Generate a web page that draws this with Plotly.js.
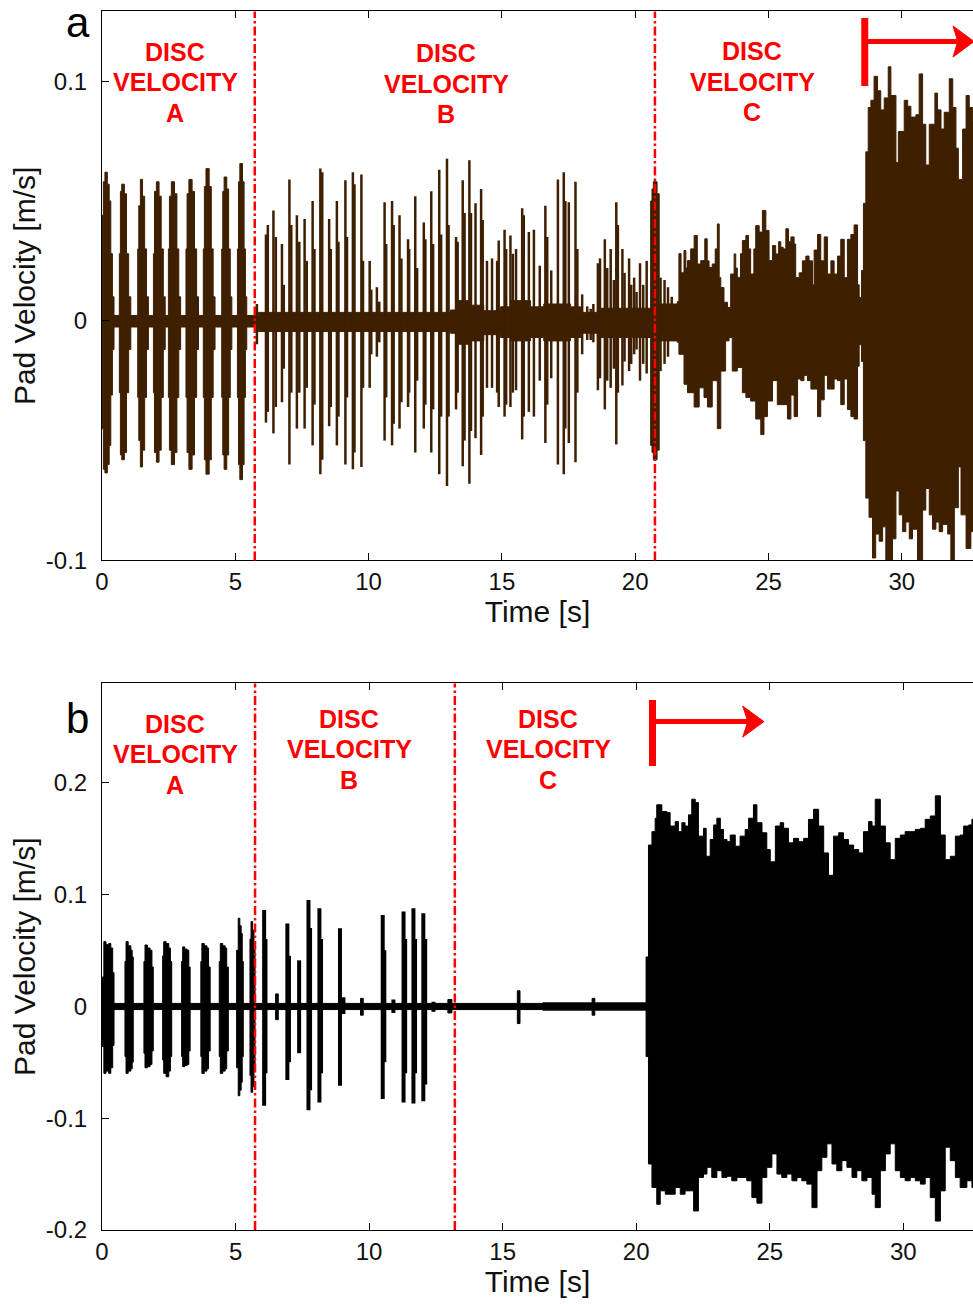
<!DOCTYPE html>
<html>
<head>
<meta charset="utf-8">
<script src="https://cdn.plot.ly/plotly-3.0.1.min.js"></script>
<style>
  html, body { margin: 0; padding: 0; background: #fff; overflow: hidden; }
  #chart { width: 973px; height: 1304px; }
</style>
</head>
<body>
<div id="chart"></div>
<script>
// ---------------- DATA ----------------
// Axis ticks
const xTickVals = [0, 5, 10, 15, 20, 25, 30];
const xTickText = ['0', '5', '10', '15', '20', '25', '30'];
const yTickVals_a = [-0.1, 0, 0.1];
const yTickText_a = ['-0.1', '0', '0.1'];
const yTickVals_b = [-0.2, -0.1, 0, 0.1, 0.2];
const yTickText_b = ['-0.2', '-0.1', '0', '0.1', '0.2'];

// Region labels and boundaries
const regionLetters = ['A', 'B', 'C'];
const boundaries_a = [5.73, 20.74];   // s
const boundaries_b = [5.73, 13.21];   // s
const onset_a = 28.61;                // s, start of the arrow (plot a)
const onset_b = 20.61;                // s, start of the arrow (plot b)

// ---- Plot a: envelope of bursts / quiet band (time [s], upper, lower [m/s]) ----
const bodyT_a = [
  0.00, 0.05, 0.11, 0.20, 0.27, 0.33, 0.39, 0.45,
  0.65, 0.69, 0.74, 0.84, 0.92, 1.00, 1.08,
  1.34, 1.38, 1.44, 1.52, 1.60, 1.67, 1.74,
  1.93, 1.97, 2.04, 2.14, 2.22, 2.30, 2.37,
  2.49, 2.53, 2.60, 2.72, 2.81, 2.88, 2.95,
  3.15, 3.19, 3.26, 3.38, 3.47, 3.55, 3.62,
  3.80, 3.84, 3.90, 4.02, 4.10, 4.17, 4.24,
  4.49, 4.53, 4.58, 4.68, 4.75, 4.81, 4.87,
  5.08, 5.12, 5.17, 5.27, 5.33, 5.38, 5.43,
  5.86, 13.07, 13.32, 13.82, 14.32, 14.95, 15.32, 16.07, 16.57, 17.57, 17.95, 18.58,
  20.58, 20.63, 20.68, 20.82, 20.90
];
const bodyHi_a = [
  0.044, 0.058, 0.062, 0.057, 0.050, 0.028, 0.010, 0.0022,
  0.028, 0.054, 0.057, 0.053, 0.028, 0.010, 0.0022,
  0.030, 0.048, 0.059, 0.052, 0.030, 0.010, 0.0022,
  0.028, 0.054, 0.058, 0.052, 0.030, 0.010, 0.0022,
  0.030, 0.052, 0.058, 0.053, 0.030, 0.010, 0.0022,
  0.030, 0.053, 0.059, 0.054, 0.030, 0.010, 0.0022,
  0.030, 0.056, 0.0635, 0.056, 0.030, 0.010, 0.0022,
  0.030, 0.054, 0.060, 0.055, 0.030, 0.010, 0.0022,
  0.030, 0.058, 0.0656, 0.058, 0.030, 0.010, 0.0022,
  0.0035, 0.0045, 0.0084, 0.0065, 0.0042, 0.0058, 0.0084, 0.0058, 0.007, 0.0058, 0.0035, 0.0052,
  0.050, 0.055, 0.058, 0.053, 0.007
];
const bodyLo_a = [
  -0.045, -0.062, -0.0635, -0.060, -0.052, -0.031, -0.012, -0.0026,
  -0.030, -0.056, -0.058, -0.055, -0.030, -0.012, -0.0026,
  -0.032, -0.050, -0.061, -0.054, -0.032, -0.012, -0.0026,
  -0.030, -0.055, -0.059, -0.054, -0.032, -0.012, -0.0026,
  -0.032, -0.054, -0.060, -0.055, -0.032, -0.012, -0.0026,
  -0.032, -0.055, -0.062, -0.056, -0.032, -0.012, -0.0026,
  -0.032, -0.058, -0.064, -0.058, -0.032, -0.012, -0.0026,
  -0.032, -0.056, -0.062, -0.056, -0.032, -0.012, -0.0026,
  -0.032, -0.060, -0.0663, -0.060, -0.032, -0.012, -0.0026,
  -0.0045, -0.0052, -0.0098, -0.0084, -0.0058, -0.007, -0.0084, -0.007, -0.0084, -0.007, -0.0052, -0.007,
  -0.052, -0.055, -0.058, -0.054, -0.0084
];
// continuous part of plot a: upper envelope
const upT_a = [
  21.58, 21.64, 21.72, 21.83, 21.90, 21.96, 22.08, 22.21, 22.33, 22.46,
  22.61, 22.70, 22.77, 22.89, 23.00, 23.08, 23.15, 23.21, 23.33, 23.46,
  23.58, 23.71, 23.77, 23.83, 23.95, 24.02, 24.15, 24.25, 24.33, 24.45,
  24.52, 24.65, 24.77, 24.90, 25.02, 25.15, 25.27, 25.38, 25.46, 25.55,
  25.65, 25.75, 25.84, 25.96, 26.02, 26.15, 26.27, 26.40, 26.52, 26.65,
  26.71, 26.84, 26.96, 27.09, 27.21, 27.34, 27.46, 27.59, 27.71, 27.84,
  27.96, 28.09, 28.21, 28.34, 28.40, 28.49, 28.56, 28.65, 28.74, 28.84,
  28.96, 29.09, 29.21, 29.34, 29.49, 29.59, 29.78, 29.87, 29.97, 30.09,
  30.22, 30.34, 30.53, 30.65, 30.78, 30.90, 31.03, 31.15, 31.24, 31.34,
  31.47, 31.59, 31.78, 31.91, 32.03, 32.12, 32.28, 32.41, 32.53, 32.66,
  32.80
];
const up_a = [
  0.008, 0.028, 0.020, 0.0293, 0.022, 0.0251, 0.030, 0.0356, 0.0237, 0.0251,
  0.0342, 0.025, 0.0223, 0.0237, 0.030, 0.0404, 0.018, 0.0139, 0.0077, 0.0056,
  0.0195, 0.0279, 0.022, 0.0181, 0.028, 0.0335, 0.0356, 0.030, 0.0195, 0.030,
  0.0397, 0.037, 0.046, 0.0377, 0.0251, 0.0314, 0.0279, 0.033, 0.0307, 0.030,
  0.0384, 0.033, 0.035, 0.032, 0.018, 0.020, 0.025, 0.027, 0.025, 0.015,
  0.0295, 0.036, 0.025, 0.035, 0.0195, 0.025, 0.0195, 0.027, 0.034, 0.018,
  0.034, 0.036, 0.040, 0.015, 0.0097, 0.021, 0.049, 0.0705, 0.089, 0.092,
  0.102, 0.096, 0.088, 0.093, 0.106, 0.094, 0.066, 0.079, 0.079, 0.092,
  0.0895, 0.085, 0.086, 0.103, 0.082, 0.065, 0.082, 0.082, 0.095, 0.088,
  0.080, 0.087, 0.101, 0.089, 0.072, 0.059, 0.080, 0.094, 0.089, 0.083,
  0.085
];
// continuous part of plot a: lower envelope
const dnT_a = [
  21.58, 21.64, 21.83, 21.96, 22.21, 22.40, 22.58, 22.71, 22.89, 23.08,
  23.21, 23.39, 23.52, 23.64, 23.83, 24.02, 24.15, 24.33, 24.52, 24.71,
  24.83, 24.96, 25.15, 25.33, 25.52, 25.71, 25.84, 25.96, 26.09, 26.21,
  26.33, 26.46, 26.59, 26.71, 26.84, 26.96, 27.09, 27.21, 27.34, 27.46,
  27.59, 27.71, 27.84, 27.96, 28.09, 28.21, 28.34, 28.40, 28.49, 28.56,
  28.65, 28.77, 28.90, 29.02, 29.15, 29.28, 29.40, 29.52, 29.65, 29.78,
  29.90, 30.03, 30.15, 30.28, 30.40, 30.59, 30.78, 30.90, 31.03, 31.15,
  31.28, 31.40, 31.53, 31.72, 31.84, 31.97, 32.12, 32.22, 32.41, 32.59,
  32.80
];
const dn_a = [
  -0.009, -0.014, -0.0265, -0.030, -0.036, -0.028, -0.032, -0.036, -0.025, -0.045,
  -0.021, -0.0084, -0.007, -0.021, -0.0195, -0.030, -0.032, -0.0335, -0.041, -0.0475,
  -0.040, -0.0335, -0.025, -0.035, -0.035, -0.041, -0.031, -0.040, -0.0243, -0.025,
  -0.0228, -0.025, -0.0285, -0.0285, -0.040, -0.033, -0.0228, -0.0285, -0.0285, -0.0243,
  -0.025, -0.035, -0.0243, -0.037, -0.040, -0.041, -0.019, -0.010, -0.017, -0.050,
  -0.074, -0.082, -0.099, -0.089, -0.092, -0.086, -0.102, -0.102, -0.091, -0.071,
  -0.081, -0.088, -0.084, -0.091, -0.087, -0.103, -0.079, -0.070, -0.081, -0.087,
  -0.084, -0.088, -0.085, -0.089, -0.101, -0.078, -0.061, -0.081, -0.095, -0.088,
  -0.090
];
// isolated spikes of plot a
const spkT_a = [
  5.81, 6.15, 6.22, 6.43, 6.52, 6.75, 6.82, 7.03, 7.10, 7.31,
  7.40, 7.60, 7.68, 7.90, 7.97, 8.19, 8.26, 8.52, 8.58, 8.81,
  8.87, 9.13, 9.19, 9.41, 9.47, 9.73, 9.79, 10.04, 10.10, 10.31,
  10.40, 10.60, 10.66, 10.88, 10.94, 11.16, 11.23, 11.48, 11.52, 11.75,
  11.82, 12.07, 12.13, 12.35, 12.42, 12.65, 12.72, 12.94, 13.00, 13.28,
  13.34, 13.53, 13.60, 13.78, 13.84, 14.01, 14.22, 14.28, 14.44, 14.63,
  14.82, 14.88, 15.10, 15.16, 15.32, 15.41, 15.53, 15.76, 15.82, 16.01,
  16.20, 16.42, 16.63, 16.70, 16.85, 17.10, 17.32, 17.38, 17.51, 17.76,
  17.83, 18.01, 18.20, 18.33, 18.43, 18.60, 18.68, 18.86, 18.95, 19.08,
  19.20, 19.29, 19.35, 19.52, 19.60, 19.77, 19.85, 19.96, 20.05, 20.18,
  20.30, 20.43, 20.95, 21.10, 21.23, 21.37, 21.52
];
const spkHi_a = [
  0.007, 0.036, 0.040, 0.046, 0.035, 0.032, 0.015, 0.059, 0.040, 0.044,
  0.033, 0.0425, 0.025, 0.050, 0.030, 0.0635, 0.062, 0.0425, 0.030, 0.050,
  0.033, 0.0586, 0.035, 0.062, 0.057, 0.061, 0.025, 0.025, 0.013, 0.014,
  0.008, 0.0495, 0.032, 0.050, 0.040, 0.044, 0.026, 0.034, 0.030, 0.052,
  0.022, 0.041, 0.034, 0.054, 0.032, 0.063, 0.036, 0.0676, 0.040, 0.035,
  0.033, 0.0586, 0.045, 0.067, 0.045, 0.049, 0.055, 0.042, 0.025, 0.026,
  0.025, 0.0335, 0.038, 0.030, 0.0356, 0.028, 0.030, 0.047, 0.044, 0.037,
  0.038, 0.023, 0.048, 0.035, 0.021, 0.059, 0.062, 0.050, 0.0495, 0.058,
  0.030, 0.011, 0.006, 0.005, 0.007, 0.024, 0.026, 0.034, 0.022, 0.030,
  0.017, 0.0495, 0.040, 0.030, 0.020, 0.026, 0.015, 0.018, 0.012, 0.024,
  0.015, 0.025, 0.018, 0.017, 0.014, 0.010, 0.006
];
const spkLo_a = [
  -0.0098, -0.0425, -0.038, -0.047, -0.036, -0.034, -0.020, -0.060, -0.030, -0.045,
  -0.030, -0.045, -0.028, -0.052, -0.035, -0.064, -0.058, -0.044, -0.036, -0.052,
  -0.040, -0.060, -0.032, -0.062, -0.055, -0.061, -0.028, -0.028, -0.014, -0.015,
  -0.009, -0.050, -0.032, -0.052, -0.043, -0.045, -0.034, -0.036, -0.030, -0.055,
  -0.025, -0.045, -0.035, -0.055, -0.037, -0.064, -0.040, -0.069, -0.040, -0.037,
  -0.030, -0.0607, -0.050, -0.068, -0.046, -0.049, -0.056, -0.040, -0.028, -0.028,
  -0.030, -0.036, -0.040, -0.035, -0.036, -0.030, -0.029, -0.0495, -0.040, -0.038,
  -0.040, -0.025, -0.051, -0.035, -0.024, -0.060, -0.064, -0.045, -0.051, -0.059,
  -0.030, -0.014, -0.008, -0.008, -0.009, -0.029, -0.024, -0.037, -0.025, -0.028,
  -0.020, -0.0516, -0.030, -0.027, -0.017, -0.021, -0.018, -0.014, -0.012, -0.025,
  -0.018, -0.022, -0.021, -0.018, -0.015, -0.008, -0.006
];

// ---- Plot b ----
const bodyT_b = [
  0.00, 0.07, 0.15, 0.25, 0.33, 0.40, 0.45,
  0.86, 0.90, 0.98, 1.08, 1.13, 1.17,
  1.57, 1.61, 1.70, 1.80, 1.87, 1.92,
  2.27, 2.31, 2.40, 2.50, 2.56, 2.61,
  2.98, 3.02, 3.10, 3.19, 3.25, 3.30,
  3.70, 3.74, 3.83, 3.93, 3.99, 4.05,
  4.39, 4.43, 4.52, 4.61, 4.67, 4.73,
  5.04, 5.10, 5.16, 5.21, 5.25, 5.29,
  5.54, 5.58, 5.64, 5.69, 5.73,
  6.50, 6.60, 9.68, 9.78, 12.95, 13.10, 15.55, 15.65, 16.50, 18.35, 18.45
];
const bodyHi_b = [
  0.026, 0.0577, 0.055, 0.056, 0.052, 0.030, 0.0025,
  0.040, 0.0577, 0.054, 0.050, 0.044, 0.0025,
  0.040, 0.0547, 0.052, 0.050, 0.035, 0.0025,
  0.045, 0.0577, 0.056, 0.052, 0.040, 0.0025,
  0.040, 0.053, 0.051, 0.050, 0.035, 0.0025,
  0.040, 0.056, 0.054, 0.052, 0.035, 0.0025,
  0.040, 0.056, 0.054, 0.052, 0.035, 0.0025,
  0.050, 0.0786, 0.072, 0.065, 0.040, 0.0025,
  0.060, 0.0756, 0.068, 0.050, 0.0025,
  0.011, 0.0025, 0.007, 0.0025, 0.006, 0.0025, 0.0138, 0.0025, 0.003, 0.007, 0.003
];
const bodyLo_b = [
  -0.036, -0.060, -0.058, -0.060, -0.055, -0.035, -0.003,
  -0.045, -0.060, -0.058, -0.056, -0.050, -0.003,
  -0.042, -0.055, -0.054, -0.052, -0.040, -0.003,
  -0.048, -0.060, -0.063, -0.058, -0.045, -0.003,
  -0.045, -0.054, -0.053, -0.052, -0.040, -0.003,
  -0.045, -0.060, -0.058, -0.056, -0.040, -0.003,
  -0.045, -0.060, -0.058, -0.056, -0.040, -0.003,
  -0.055, -0.080, -0.075, -0.068, -0.045, -0.003,
  -0.062, -0.077, -0.072, -0.055, -0.003,
  -0.012, -0.003, -0.008, -0.003, -0.006, -0.003, -0.0155, -0.003, -0.0035, -0.008, -0.0035
];
const upT_b = [
  20.37, 20.46, 20.59, 20.71, 20.77, 20.96, 21.15, 21.27, 21.46, 21.58,
  21.71, 21.83, 21.96, 22.08, 22.21, 22.33, 22.52, 22.62, 22.77, 22.90,
  23.02, 23.15, 23.27, 23.40, 23.52, 23.71, 23.89, 24.08, 24.21, 24.39,
  24.52, 24.71, 24.89, 25.02, 25.21, 25.39, 25.52, 25.70, 25.89, 26.08,
  26.27, 26.45, 26.64, 26.83, 27.02, 27.20, 27.39, 27.58, 27.76, 27.95,
  28.14, 28.33, 28.51, 28.70, 28.83, 28.95, 29.14, 29.33, 29.51, 29.70,
  29.89, 30.07, 30.26, 30.45, 30.64, 30.82, 31.01, 31.20, 31.39, 31.57,
  31.76, 31.95, 32.13, 32.26, 32.45, 32.57, 32.80
];
const up_b = [
  0.044, 0.144, 0.156, 0.168, 0.180, 0.174, 0.173, 0.161, 0.165, 0.156,
  0.164, 0.161, 0.171, 0.185, 0.182, 0.152, 0.159, 0.134, 0.149, 0.162,
  0.168, 0.158, 0.149, 0.147, 0.153, 0.143, 0.152, 0.158, 0.168, 0.180,
  0.164, 0.155, 0.140, 0.129, 0.161, 0.164, 0.159, 0.146, 0.150, 0.147,
  0.150, 0.167, 0.176, 0.161, 0.137, 0.117, 0.152, 0.155, 0.149, 0.144,
  0.140, 0.137, 0.156, 0.165, 0.161, 0.185, 0.161, 0.146, 0.131, 0.150,
  0.153, 0.156, 0.156, 0.158, 0.159, 0.167, 0.170, 0.188, 0.153, 0.131,
  0.134, 0.152, 0.153, 0.161, 0.162, 0.167, 0.160
];
const dnT_b = [
  20.37, 20.46, 20.59, 20.77, 20.90, 21.09, 21.27, 21.46, 21.65, 21.83,
  22.02, 22.15, 22.33, 22.52, 22.65, 22.83, 23.02, 23.21, 23.40, 23.58,
  23.77, 23.96, 24.14, 24.33, 24.52, 24.71, 24.89, 25.08, 25.27, 25.45,
  25.64, 25.83, 26.02, 26.20, 26.39, 26.58, 26.77, 26.95, 27.14, 27.33,
  27.51, 27.70, 27.89, 28.08, 28.26, 28.45, 28.64, 28.83, 28.95, 29.14,
  29.33, 29.51, 29.70, 29.89, 30.07, 30.26, 30.45, 30.64, 30.82, 31.01,
  31.20, 31.39, 31.57, 31.76, 31.95, 32.13, 32.38, 32.57, 32.80
];
const dn_b = [
  -0.045, -0.141, -0.162, -0.177, -0.165, -0.168, -0.168, -0.162, -0.168, -0.165,
  -0.165, -0.183, -0.153, -0.150, -0.144, -0.153, -0.147, -0.153, -0.152, -0.156,
  -0.153, -0.153, -0.156, -0.171, -0.176, -0.153, -0.144, -0.132, -0.150, -0.153,
  -0.150, -0.156, -0.153, -0.156, -0.159, -0.180, -0.147, -0.135, -0.123, -0.141,
  -0.147, -0.138, -0.144, -0.153, -0.147, -0.156, -0.153, -0.168, -0.180, -0.147,
  -0.132, -0.123, -0.147, -0.153, -0.156, -0.153, -0.156, -0.159, -0.153, -0.171,
  -0.192, -0.165, -0.126, -0.138, -0.153, -0.162, -0.156, -0.162, -0.160
];
const spkT_b = [6.07, 6.12, 6.94, 7.00, 7.38, 7.73, 7.79, 8.14, 8.20, 8.91, 9.04,
  10.51, 10.57, 10.91, 11.29, 11.35, 11.66, 11.72, 12.03, 12.10, 12.41];
const spkHi_b = [0.086, 0.060, 0.074, 0.045, 0.041, 0.095, 0.070, 0.0876, 0.060, 0.0697, 0.008,
  0.0816, 0.050, 0.006, 0.0846, 0.060, 0.0876, 0.060, 0.083, 0.060, 0.004];
const spkLo_b = [-0.089, -0.060, -0.066, -0.050, -0.042, -0.093, -0.075, -0.086, -0.060, -0.071, -0.007,
  -0.083, -0.050, -0.006, -0.086, -0.060, -0.087, -0.060, -0.085, -0.070, -0.005];

// ---------------- BUILD ----------------
const W = 973, H = 1304, ML = 102;
const PW = W - ML;
const px = (x) => (x - ML) / PW;      // pixel -> paper x
const py = (y) => (H - y) / H;        // pixel -> paper y

const COL_A = '#3e1f00';
const COL_B = '#000000';

function spikeXY(t, hi, lo) {
  const x = [], y = [];
  for (let i = 0; i < t.length; i++) { x.push(t[i], t[i], null); y.push(lo[i], hi[i], null); }
  return {x, y};
}

function signalTraces(bodyT, bodyHi, bodyLo, upT, up, dnT, dn, sT, sHi, sLo, col, xa, ya, spkW) {
  const lo = { x: bodyT.concat(dnT), y: bodyLo.concat(dn), xaxis: xa, yaxis: ya, type: 'scatter',
    mode: 'lines', line: { shape: 'hv', width: 1, color: col }, hoverinfo: 'skip' };
  const hi = { x: bodyT.concat(upT), y: bodyHi.concat(up), xaxis: xa, yaxis: ya, type: 'scatter',
    mode: 'lines', fill: 'tonexty', fillcolor: col, line: { shape: 'hv', width: 1, color: col }, hoverinfo: 'skip' };
  const s = spikeXY(sT, sHi, sLo);
  const sp = { x: s.x, y: s.y, xaxis: xa, yaxis: ya, type: 'scatter', mode: 'lines',
    connectgaps: false, line: { width: spkW, color: col }, hoverinfo: 'skip' };
  return [lo, hi, sp];
}

const data = []
  .concat(signalTraces(bodyT_a, bodyHi_a, bodyLo_a, upT_a, up_a, dnT_a, dn_a, spkT_a, spkHi_a, spkLo_a, COL_A, 'x', 'y', 2.5))
  .concat(signalTraces(bodyT_b, bodyHi_b, bodyLo_b, upT_b, up_b, dnT_b, dn_b, spkT_b, spkHi_b, spkLo_b, COL_B, 'x2', 'y2', 4));

const FONT = 'Liberation Sans, Arial, sans-serif';
const RED = '#ff0000';

function xAxis(anchor, range) {
  return {
    anchor: anchor, domain: [0, 1], range: range, autorange: false,
    tickmode: 'array', tickvals: xTickVals, ticktext: xTickText,
    ticks: 'inside', ticklen: 7, tickwidth: 1, tickcolor: '#000',
    showline: true, linecolor: '#000', linewidth: 1, mirror: 'ticks',
    showgrid: false, zeroline: false, automargin: false,
    tickfont: { family: FONT, size: 24, color: '#111' },
    ticklabelstandoff: 0,
    title: { text: 'Time [s]', font: { family: FONT, size: 30, color: '#111' }, standoff: 4 }
  };
}
function yAxis(anchor, domain, range, tv, tt) {
  return {
    anchor: anchor, domain: domain, range: range, autorange: false,
    tickmode: 'array', tickvals: tv, ticktext: tt,
    ticks: 'inside', ticklen: 7, tickwidth: 1, tickcolor: '#000',
    showline: true, linecolor: '#000', linewidth: 1, mirror: false,
    showgrid: false, zeroline: false, automargin: false,
    tickfont: { family: FONT, size: 24, color: '#111' },
    ticklabelstandoff: 9,
    title: { text: 'Pad Velocity [m/s]', font: { family: FONT, size: 30, color: '#111' }, standoff: 1 }
  };
}

// Region label annotations: [centre x px, DISC y px, VELOCITY y px, letter y px]
const labelPos_a = [[175, 52, 82, 113], [446, 53, 84, 114], [752, 51, 82, 112]];
const labelPos_b = [[175, 724, 754, 785], [349, 719, 749, 780], [548, 719, 749, 780]];
const annotations = [];
function addLabels(pos) {
  pos.forEach((p, i) => {
    const lines = ['DISC', 'VELOCITY', regionLetters[i]];
    lines.forEach((txt, j) => {
      annotations.push({ xref: 'paper', yref: 'paper', x: px(p[0]), y: py(p[j + 1]),
        xanchor: 'center', yanchor: 'middle', showarrow: false,
        text: '<b>' + txt + '</b>', font: { family: FONT, size: 25, color: RED } });
    });
  });
}
addLabels(labelPos_a);
addLabels(labelPos_b);
annotations.push({ xref: 'paper', yref: 'paper', x: px(78), y: py(23), xanchor: 'center', yanchor: 'middle',
  showarrow: false, text: 'a', font: { family: FONT, size: 42, color: '#000' } });
annotations.push({ xref: 'paper', yref: 'paper', x: px(77), y: py(718), xanchor: 'center', yanchor: 'middle',
  showarrow: false, text: 'b', font: { family: FONT, size: 42, color: '#000' } });

// Shapes: dash-dot boundaries and onset arrows
const shapes = [];
const DASH = '9px,3px,2.5px,3px';
boundaries_a.forEach(t => shapes.push({ type: 'line', xref: 'x', yref: 'y domain', x0: t, x1: t, y0: 0, y1: 1,
  line: { color: RED, width: 2.5, dash: DASH }, layer: 'above' }));
boundaries_b.forEach(t => shapes.push({ type: 'line', xref: 'x2', yref: 'y2 domain', x0: t, x1: t, y0: 0, y1: 1,
  line: { color: RED, width: 2.5, dash: DASH }, layer: 'above' }));

function arrow(xref, t0, barTop, barBot, yMid, headBack, notch, tip, half) {
  // t in data units (s), vertical positions in pixels
  shapes.push({ type: 'line', xref: xref, yref: 'paper', x0: t0, x1: t0, y0: py(barTop), y1: py(barBot),
    line: { color: RED, width: 7 }, layer: 'above' });
  shapes.push({ type: 'line', xref: xref, yref: 'paper', x0: t0, x1: notch, y0: py(yMid), y1: py(yMid),
    line: { color: RED, width: 5 }, layer: 'above' });
  const path = 'M' + tip + ',' + py(yMid) + ' L' + headBack + ',' + py(yMid - half) +
    ' L' + notch + ',' + py(yMid) + ' L' + headBack + ',' + py(yMid + half) + ' Z';
  shapes.push({ type: 'path', xref: xref, yref: 'paper', path: path,
    fillcolor: RED, line: { color: RED, width: 1 }, layer: 'above' });
}
arrow('x', onset_a, 18, 86, 41.5, 31.92, 32.10, 32.71, 15.5);
arrow('x2', onset_b, 700, 766, 721.6, 23.99, 24.18, 24.78, 15.5);

const layout = {
  width: W, height: H,
  margin: { l: ML, r: 0, t: 0, b: 0, pad: 0 },
  paper_bgcolor: '#ffffff', plot_bgcolor: '#ffffff',
  showlegend: false,
  font: { family: FONT, color: '#111' },
  xaxis: xAxis('y', [0, 32.67]),
  yaxis: yAxis('x', [py(560.4), py(11.4)], [-0.1, 0.1291], yTickVals_a, yTickText_a),
  xaxis2: xAxis('y2', [0, 32.61]),
  yaxis2: yAxis('x2', [py(1230), py(683.4)], [-0.2, 0.2885], yTickVals_b, yTickText_b),
  annotations: annotations,
  shapes: shapes
};

Plotly.newPlot('chart', data, layout, { staticPlot: true, displayModeBar: false });
</script>
</body>
</html>
